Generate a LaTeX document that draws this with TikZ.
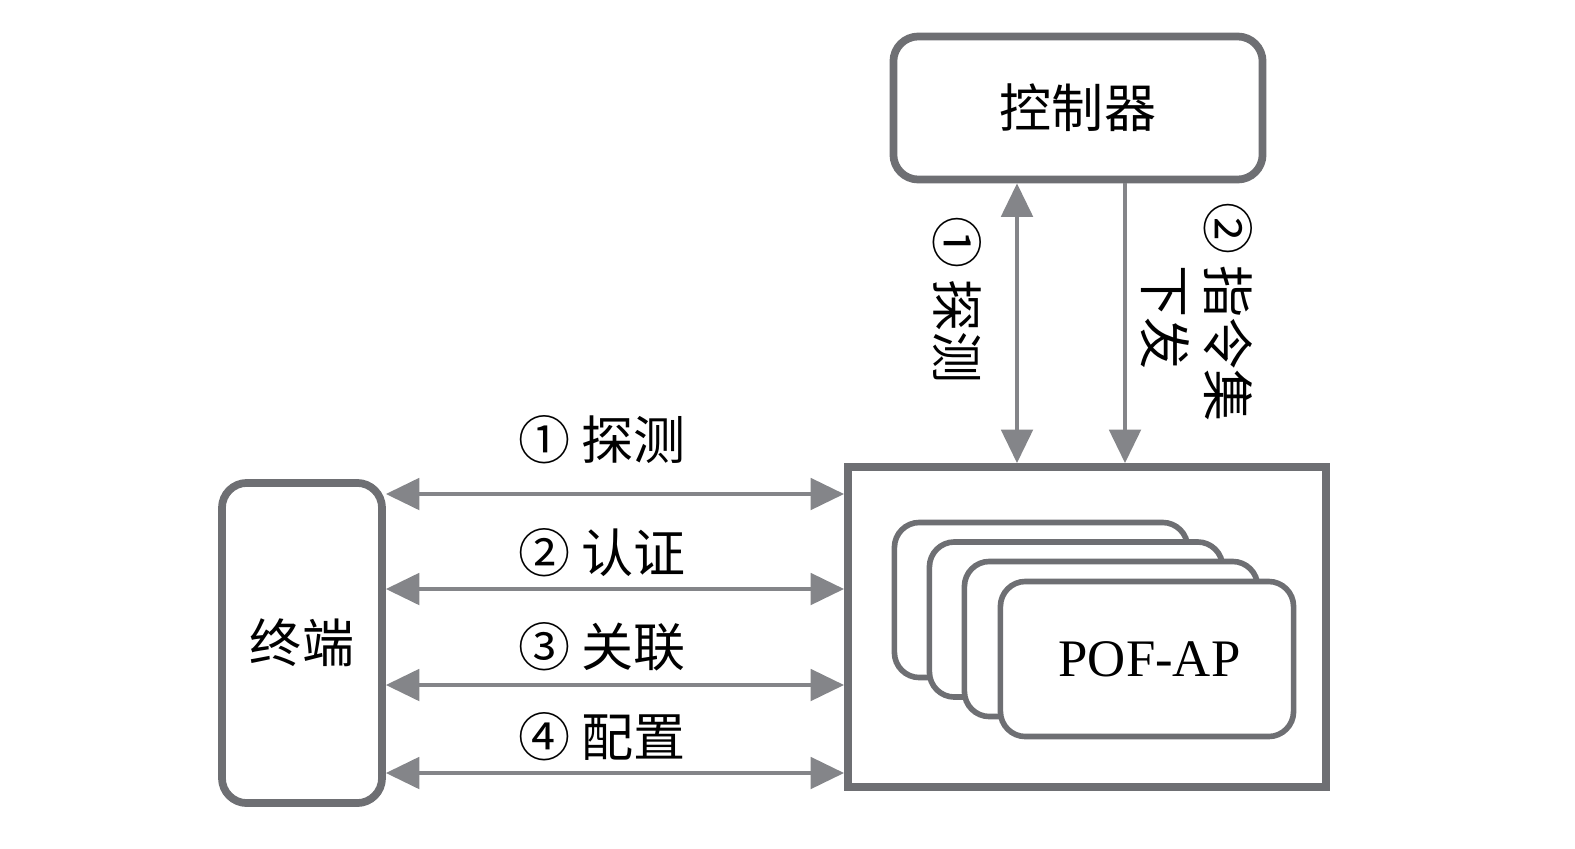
\documentclass[tikz,border=0pt]{standalone}
\usepackage{fontspec}
\setmainfont{Liberation Serif}
\newfontfamily\cjk{Noto Sans CJK SC}
\usetikzlibrary{arrows.meta}

\definecolor{boxgray}{RGB}{110,111,115}
\definecolor{linegray}{RGB}{132,133,137}

\tikzset{
    box/.style={draw=boxgray, line width=2.2pt, rounded corners=0.25cm, inner sep=0pt},
    apcard/.style={draw=boxgray, line width=1.6pt, rounded corners=0.25cm, fill=white,
        minimum width=2.93cm, minimum height=1.55cm},
    lab/.style={font=\cjk\fontsize{14.8}{18}\selectfont, text=black},
    link/.style={draw=linegray, line width=0.9pt,
        {Triangle[length=9.5pt,width=9pt]}-{Triangle[length=9.5pt,width=9pt]}},
    down/.style={draw=linegray, line width=0.9pt, -{Triangle[length=9.5pt,width=9pt]}},
}

\begin{document}
\begin{tikzpicture}[x=0.01cm, y=-0.01cm]
    \useasboundingbox (0,0) rectangle (1575,848);

    % Draw nodes
    \node[box, lab, minimum width=3.69cm, minimum height=1.43cm] (ctrl) at (1078,108) {控制器};
    \node[box, lab, minimum width=1.6cm, minimum height=3.2cm] (term) at (302,643) {终端};
    \node[box, rounded corners=0pt, minimum width=4.78cm, minimum height=3.2cm] (ap) at (1087,627) {};

    % Stacked POF-AP cards
    \foreach \i in {0,1,2}
        \node[apcard] (card\i) at (1041+35*\i, 600+19.5*\i) {};
    \node[apcard, font=\fontsize{15}{17}\selectfont] (card3) at (1147,659) {\hspace*{0.05cm}POF-AP};

    % Draw terminal edges
    \foreach \k/\y/\ly/\t in {1/494/440/{①\ 探测}, 2/589/553/{②\ 认证},
                              3/685/647/{③\ 关联}, 4/773/737/{④\ 配置}} {
        \coordinate (row\k) at (600,\y);
        \draw[link] (term.east |- row\k) -- (ap.west |- row\k);
        \node[lab] (step\k) at (602,\ly) {\t};
    }

    % Draw controller edges
    \coordinate (v1) at (1017,300);
    \coordinate (v2) at (1125,300);
    \draw[link] (ctrl.south -| v1) -- (ap.north -| v1);
    \draw[down] (ctrl.south -| v2) -- (ap.north -| v2);
    \node[lab, rotate=-90] (probe) at (957,300) {①\ 探测};
    \node[lab, rotate=-90, align=left] (issue) at (1197,312) {②\ 指令集\\\phantom{②\ }下发};
\end{tikzpicture}
\end{document}
